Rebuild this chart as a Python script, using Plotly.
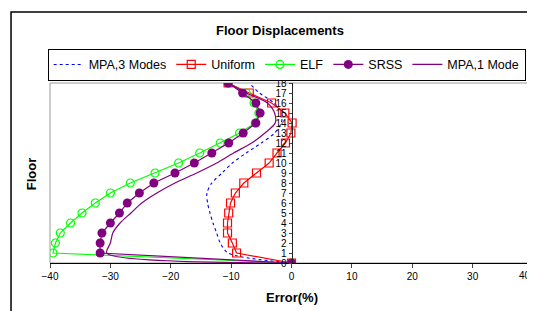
import plotly.graph_objects as go

floors = list(range(0, 19))

mpa3 = [0, -10.5, -11.8, -12.4, -13.0, -13.5, -13.9, -14.0, -13.2, -11.5, -9.8,
        -7.5, -5.0, -2.8, -1.7, -1.6, -2.9, -5.3, -7.0]
uniform = [0, -9.1, -9.8, -10.6, -10.6, -10.4, -10.1, -9.3, -7.9, -5.8, -3.7,
           -2.4, -1.0, -0.1, 0.1, -1.1, -3.3, -7.0, -10.5]
elf = [0, -39.5, -39.1, -38.3, -36.6, -34.7, -32.5, -30.0, -26.7, -22.6, -18.7,
       -15.2, -11.8, -8.6, -6.0, -5.4, -6.2, -7.5, -10.5]
srss = [0, -31.7, -31.7, -31.4, -30.0, -28.5, -27.2, -25.2, -22.8, -19.3, -16.1,
        -13.2, -10.4, -8.0, -5.9, -5.2, -5.9, -8.1, -10.5]
mpa1 = [0, -30.6, -30.0, -29.6, -28.4, -26.6, -24.8, -22.3, -19.3, -15.7, -12.4,
        -9.6, -6.6, -4.4, -2.7, -2.8, -4.0, -7.5, -10.5]

x_ticks = [-40, -30, -20, -10, 0, 10, 20, 30, 40]
y_ticks = floors

FONT = "Liberation Sans, Arial, sans-serif"

fig = go.Figure()
fig.add_trace(go.Scatter(x=mpa3, y=floors, name="MPA,3 Modes", mode="lines",
                         line=dict(color="#0000FF", width=1.1, dash="dot", shape="spline", smoothing=0.8)))
fig.add_trace(go.Scatter(x=uniform, y=floors, name="Uniform", mode="lines+markers",
                         line=dict(color="#FF0000", width=1.2),
                         marker=dict(symbol="square-open", size=8, color="#FF0000", line=dict(width=1.2))))
fig.add_trace(go.Scatter(x=elf, y=floors, name="ELF", mode="lines+markers",
                         line=dict(color="#00FF00", width=1.2),
                         marker=dict(symbol="circle-open", size=8, color="#00FF00", line=dict(width=1.2))))
fig.add_trace(go.Scatter(x=srss, y=floors, name="SRSS", mode="lines+markers",
                         line=dict(color="#800080", width=1.2),
                         marker=dict(symbol="circle", size=9, color="#800080")))
fig.add_trace(go.Scatter(x=mpa1, y=floors, name="MPA,1 Mode", mode="lines",
                         line=dict(color="#800080", width=1.2, shape="spline", smoothing=0.8)))

fig.update_layout(
    width=527, height=303,
    margin=dict(l=42, r=2, t=75, b=48, autoexpand=False),
    paper_bgcolor="white", plot_bgcolor="white",
    font=dict(family=FONT, color="black"),
    showlegend=True,
    legend=dict(orientation="h", x=0.49, xanchor="center", y=1.19, yanchor="top",
                bordercolor="black", borderwidth=1, font=dict(size=12.5, family=FONT),
                itemwidth=30, tracegroupgap=0),
    xaxis=dict(range=[-40, 40], tickvals=x_ticks, ticks="outside", ticklen=4,
               showline=True, linecolor="black", linewidth=1, showgrid=False,
               zeroline=False, tickfont=dict(size=10, family=FONT), fixedrange=True),
    yaxis=dict(range=[0, 18], tickvals=y_ticks, ticks="outside", ticklen=3,
               anchor="free", position=0.5, showline=True, linecolor="#222222",
               linewidth=1, showgrid=False, zeroline=False,
               tickfont=dict(size=10, family=FONT), fixedrange=True),
    shapes=[
        dict(type="rect", xref="paper", yref="paper", x0=0, x1=1, y0=0, y1=1,
             line=dict(color="#9a9a9a", width=1), layer="below"),
        dict(type="rect", xref="paper", yref="paper", x0=-0.0807, x1=1.2, y0=-0.6, y1=1.394,
             line=dict(color="black", width=1.5), layer="below"),
    ],
    annotations=[
        dict(text="<b>Floor Displacements</b>", xref="paper", yref="paper", x=0.476, y=1.289,
             xanchor="center", yanchor="middle", showarrow=False, font=dict(size=13, family=FONT)),
        dict(text="<b>Floor</b>", xref="paper", yref="paper", x=-0.039, y=0.494, textangle=-90,
             xanchor="center", yanchor="middle", showarrow=False, font=dict(size=13, family=FONT)),
        dict(text="<b>Error(%)</b>", xref="paper", yref="paper", x=0.5, y=-0.189,
             xanchor="center", yanchor="middle", showarrow=False, font=dict(size=13, family=FONT)),
        dict(text=str(x_ticks[-1]), xref="x", yref="paper", x=x_ticks[-1], y=-0.03,
             xanchor="right", yanchor="top", showarrow=False, font=dict(size=10, family=FONT)),
    ],
)

fig.write_html("out.html")
